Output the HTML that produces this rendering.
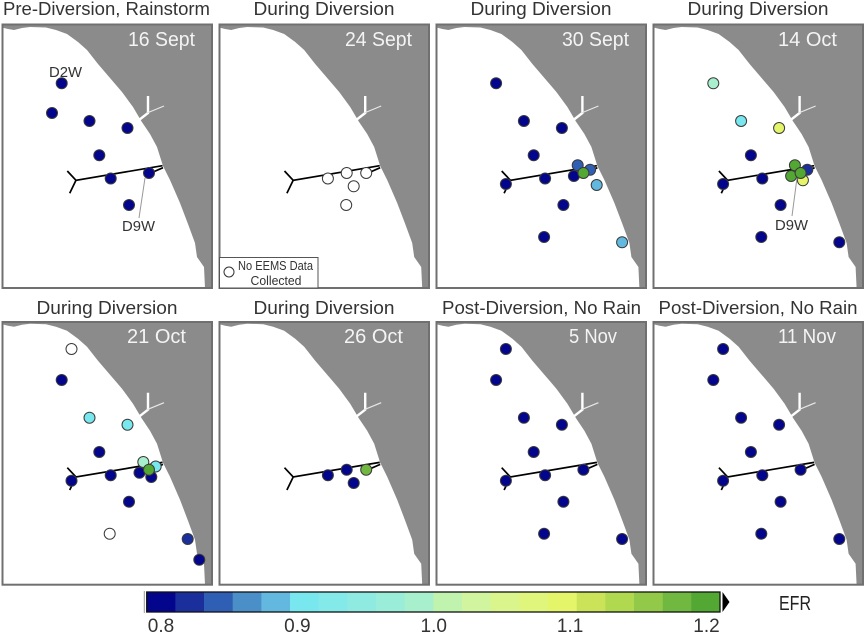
<!DOCTYPE html>
<html lang="en">
<head>
<meta charset="utf-8">
<title>EFR maps</title>
<style>
html,body{margin:0;padding:0;background:#fff;}
svg{display:block;font-family:"Liberation Sans",sans-serif;}
.title{font-size:18px;fill:#333;text-anchor:middle;}
.date{font-size:20px;fill:#f4f4f4;}
.lab{font-size:14.5px;fill:#333;}
.tick{font-size:19px;fill:#333;text-anchor:middle;}
</style>
</head>
<body>
<svg id="fig" xmlns="http://www.w3.org/2000/svg" width="865" height="635" viewBox="0 0 865 635">
  <g id="maps"></g>

  <g>
    <text class="title" x="106.5" y="15" textLength="207" lengthAdjust="spacingAndGlyphs">Pre-Diversion, Rainstorm</text>
    <text class="title" x="324" y="15" textLength="141" lengthAdjust="spacingAndGlyphs">During Diversion</text>
    <text class="title" x="541" y="15" textLength="141" lengthAdjust="spacingAndGlyphs">During Diversion</text>
    <text class="title" x="758" y="15" textLength="141" lengthAdjust="spacingAndGlyphs">During Diversion</text>
    <text class="title" x="107" y="314" textLength="141" lengthAdjust="spacingAndGlyphs">During Diversion</text>
    <text class="title" x="324" y="314" textLength="141" lengthAdjust="spacingAndGlyphs">During Diversion</text>
    <text class="title" x="541.5" y="314" textLength="199" lengthAdjust="spacingAndGlyphs">Post-Diversion, No Rain</text>
    <text class="title" x="758" y="314" textLength="199" lengthAdjust="spacingAndGlyphs">Post-Diversion, No Rain</text>
  </g>

  <g>
    <text class="date" x="128" y="46" textLength="67" lengthAdjust="spacingAndGlyphs">16 Sept</text>
    <text class="date" x="345" y="46" textLength="67" lengthAdjust="spacingAndGlyphs">24 Sept</text>
    <text class="date" x="562" y="46" textLength="67" lengthAdjust="spacingAndGlyphs">30 Sept</text>
    <text class="date" x="778" y="46" textLength="59" lengthAdjust="spacingAndGlyphs">14 Oct</text>
    <text class="date" x="127" y="343" textLength="59" lengthAdjust="spacingAndGlyphs">21 Oct</text>
    <text class="date" x="344" y="343" textLength="59" lengthAdjust="spacingAndGlyphs">26 Oct</text>
    <text class="date" x="569" y="343" textLength="48" lengthAdjust="spacingAndGlyphs">5 Nov</text>
    <text class="date" x="778" y="343" textLength="58" lengthAdjust="spacingAndGlyphs">11 Nov</text>
  </g>

  <g id="maps-top">
    <text class="lab" x="49" y="77" textLength="33" lengthAdjust="spacingAndGlyphs">D2W</text>
    <line x1="145" y1="178" x2="139" y2="218" stroke="#999" stroke-width="1"/>
    <text class="lab" x="122" y="231" textLength="33" lengthAdjust="spacingAndGlyphs">D9W</text>
    <line x1="797" y1="178" x2="792" y2="216" stroke="#999" stroke-width="1"/>
    <text class="lab" x="775" y="230" textLength="33" lengthAdjust="spacingAndGlyphs">D9W</text>
  </g>

  <g>
    <rect x="219.5" y="257.5" width="98.5" height="30.5" fill="#fff" stroke="#555" stroke-width="1"/>
    <circle cx="229" cy="272" r="5" fill="#fff" stroke="#333" stroke-width="1"/>
    <text x="238" y="270" font-size="12.5" fill="#333" textLength="75" lengthAdjust="spacingAndGlyphs">No EEMS Data</text>
    <text x="250.5" y="285" font-size="12.5" fill="#333" textLength="51" lengthAdjust="spacingAndGlyphs">Collected</text>
  </g>

  <g id="colorbar"></g>
  <text x="779" y="610" font-size="20" fill="#222" textLength="32" lengthAdjust="spacingAndGlyphs">EFR</text>
</svg>

<script>
// ---- Data ----
var stationEasting  = [71.5, 61.7, 52, 89.5, 127.5, 99.3, 110.7, 71.5, 129, 109.7, 187.7, 199.3, 149, 143.3, 155.7, 139.5, 151.3, 162.3, 136.5, 129.5];
var stationNorthing = [52.3, 83.3, 113, 121, 128, 155.3, 178.5, 184, 205, 237, 242.3, 263, 173, 165.3, 169.8, 176, 180.3, 185, 186.3, 173];

var panelStations = [
  [1, 2, 3, 4, 5, 6, 12, 8],
  [6, 19, 12, 18, 8],
  [1, 3, 4, 5, 6, 7, 13, 14, 15, 12, 17, 8, 9, 10],
  [1, 3, 4, 5, 6, 7, 14, 16, 13, 15, 12, 8, 9, 10],
  [0, 1, 3, 4, 5, 6, 7, 13, 14, 15, 16, 12, 8, 9, 10, 11],
  [6, 19, 18, 12],
  [0, 1, 3, 4, 5, 6, 7, 12, 8, 9, 10],
  [0, 1, 3, 4, 5, 6, 7, 12, 8, 9, 10]
];
// null = no EEMS data collected
var panelEfr = [
  [0.8, 0.8, 0.8, 0.8, 0.8, 0.8, 0.81, 0.8],
  [null, null, null, null, null],
  [0.8, 0.8, 0.8, 0.8, 0.8, 0.8, 0.84, 0.84, 0.8, 1.19, 0.88, 0.8, 0.8, 0.88],
  [0.98, 0.9, 1.09, 0.8, 0.8, 0.8, 0.82, 1.09, 1.19, 1.19, 1.19, 0.8, 0.8, 0.8],
  [null, 0.8, 0.9, 0.9, 0.8, 0.8, 0.8, 0.98, 0.9, 0.8, 0.8, 1.19, 0.8, null, 0.82, 0.8],
  [0.8, 0.8, 0.8, 1.16],
  [0.8, 0.8, 0.8, 0.8, 0.8, 0.8, 0.8, 0.8, 0.8, 0.8, 0.8],
  [0.8, 0.8, 0.8, 0.8, 0.8, 0.8, 0.8, 0.8, 0.8, 0.8, 0.8]
];

var binColors = ["#03058c","#1a2f9c","#2f5fb5","#4a8fc8","#62b8de","#78e7ee","#84e9e9","#8febe2","#9aedd8","#a8f0cd","#c0f4ae","#d0f59e","#d9f58c","#e0f57c","#e5f56a","#cbe358","#b0d94f","#93c948","#71b840","#53a833"];
var tickValues = [0.8, 0.9, 1.0, 1.1, 1.2];
var tickLabels = ["0.8", "0.9", "1.0", "1.1", "1.2"];
var efrMin = 0.8;
var efrMax = 1.2;

// Coastline in map units
var coastEast  = [2, 8, 14, 22, 30, 46, 56, 67, 78, 87, 98, 110, 122, 133, 141.7, 150, 157, 163, 170, 180, 188, 195, 197, 204, 205, 215, 215, -3, -3];
var coastNorth = [27.5, 29, 30, 28, 27, 27.5, 30, 34, 42, 50, 64, 78, 92, 107, 121.7, 134, 147, 166, 180, 203, 224, 243, 257, 267, 288, 288, 20, 20, 27];

// ---- Axis functions ----
var NS = "http://www.w3.org/2000/svg";
var colStep = 217.2, rowStep = 296.7;
function mapX(e, col) { return e + col * colStep; }
function mapY(n, row) { return n + row * rowStep; }
function barX(v) { return 161 + (v - efrMin) / (efrMax - efrMin) * 545.5; }
function efrColor(v) {
  var i = Math.floor((v - efrMin) / (efrMax - efrMin) * binColors.length + 1e-6);
  return binColors[Math.max(0, Math.min(binColors.length - 1, i))];
}
function mk(tag, attrs, parent) {
  var el = document.createElementNS(NS, tag);
  for (var k in attrs) el.setAttribute(k, attrs[k]);
  parent.appendChild(el);
  return el;
}

var panelRects = [
  [2.5, 24.5], [219.5, 24.5], [436.5, 24.5], [653.5, 24.5],
  [2.5, 322], [219.5, 322], [436.5, 322], [653.5, 322]
];
var maps = document.getElementById("maps");
var defs = mk("defs", {}, maps);

panelStations.forEach(function (ids, p) {
  var col = p % 4, row = Math.floor(p / 4);
  var rx = panelRects[p][0], ry = panelRects[p][1];
  var rh = row === 0 ? 263.5 : 262.7;
  var X = function (e) { return mapX(e, col); };
  var Y = function (n) { return mapY(n, row); };

  var cp = mk("clipPath", { id: "clip" + p }, defs);
  mk("rect", { x: rx, y: ry, width: 209.5, height: rh }, cp);

  var g = mk("g", {}, maps);
  
  

  var inner = mk("g", { "clip-path": "url(#clip" + p + ")" }, g);

  var pts = coastEast.map(function (e, i) { return X(e) + "," + Y(coastNorth[i]); }).join(" ");
  var land = mk("polygon", { points: pts, fill: "#8b8b8b" }, inner);
  
  

  var river = mk("path", {
    d: "M" + X(139) + " " + Y(120) + "L" + X(148) + " " + Y(113) + "L" + X(148) + " " + Y(96),
    fill: "none", stroke: "#fff", "stroke-width": 2.4
  }, inner);
  
  

  var branch = mk("line", {
    x1: X(147), y1: Y(113), x2: X(164), y2: Y(106), stroke: "#e8e8e8", "stroke-width": 1.2
  }, inner);
  
  

  var inlet = mk("path", {
    d: "M" + X(195) + " " + Y(255) + "Q" + X(196) + " " + Y(262) + " " + X(201) + " " + Y(266),
    fill: "none", stroke: "#fff", "stroke-width": 2
  }, inner);
  
  

  var pipe = mk("path", {
    d: "M" + X(162.5) + " " + Y(165.7) + "L" + X(76) + " " + Y(180.3) +
       "L" + X(67.3) + " " + Y(171) + "M" + X(76) + " " + Y(180.3) + "L" + X(69.7) + " " + Y(193.3) +
       "M" + X(163) + " " + Y(167.7) + "L" + X(152) + " " + Y(172.5),
    fill: "none", stroke: "#000", "stroke-width": 1.7
  }, inner);
  
  

  ids.forEach(function (id, i) {
    var v = panelEfr[p][i];
    var c = mk("circle", {
      cx: X(stationEasting[id]), cy: Y(stationNorthing[id]), r: 5.5,
      fill: v === null ? "#fff" : efrColor(v),
      stroke: "#3a3a3a", "stroke-width": 1
    }, inner);
    
    
  });

  var frame = mk("rect", {
    x: rx, y: ry, width: 209.5, height: rh, fill: "none", stroke: "#707070", "stroke-width": 2
  }, g);
  
  
});

// ---- Colorbar ----
var cb = document.getElementById("colorbar");
var segW = (720 - 146.7) / binColors.length;
binColors.forEach(function (color, i) {
  var s = mk("rect", { x: 146.7 + i * segW, y: 592, width: segW + 0.3, height: 20, fill: color }, cb);
  
  
});
var outline = mk("rect", { x: 146.7, y: 592, width: 573.3, height: 20, fill: "none", stroke: "#111", "stroke-width": 1.3 }, cb);


var arrow = mk("polygon", { points: "722.5,592 729.5,602 722.5,612", fill: "#000" }, cb);


var stub = mk("line", { x1: 144.3, y1: 591, x2: 144.3, y2: 613, stroke: "#999", "stroke-width": 1 }, cb);


tickValues.forEach(function (v, i) {
  var t = mk("text", { x: barX(v), y: 632, "class": "tick" }, cb);
  
  
  t.textContent = tickLabels[i];
});
</script>
</body>
</html>
